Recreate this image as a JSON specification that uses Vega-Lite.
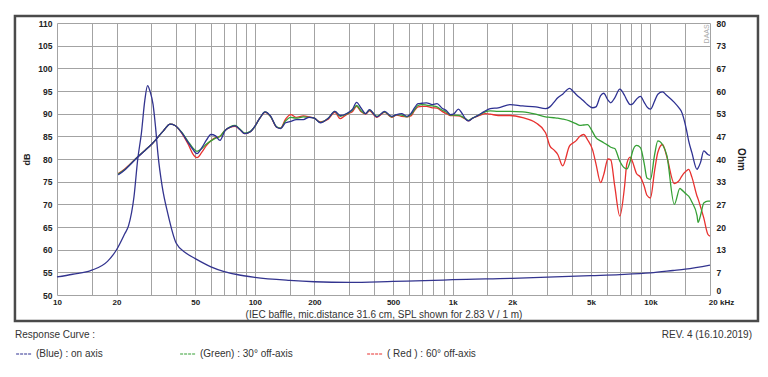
{
  "$schema": "https://vega.github.io/schema/vega-lite/v6.json",
  "width": 653,
  "height": 272,
  "autosize": {"type": "none"},
  "padding": {"left": 57, "top": 23, "right": 58, "bottom": 82},
  "background": "white",
  "config": {
    "font": "Liberation Sans",
    "view": {"stroke": null},
    "axis": {"gridColor": "#a3a3a3", "gridWidth": 1, "gridOpacity": 1, "labelColor": "#222", "titleColor": "#222"},
    "axisLeft": {"values": [50, 55, 60, 65, 70, 75, 80, 85, 90, 95, 100, 105, 110], "labelOverlap": false}
  },
  "title": {"text": "REV. 4 (16.10.2019)", "orient": "bottom", "anchor": "end", "frame": "group", "dx": 42, "offset": -29, "fontSize": 10, "fontWeight": "normal", "color": "#333", "font": "Liberation Sans"},
  "datasets": {
    "spl": [
      {"f": 20.4, "b": 76.5, "g": 76.7, "r": 76.8},
      {"f": 22, "b": 77.6, "g": 77.7, "r": 77.8},
      {"f": 25.3, "b": 80.2, "g": 80.3, "r": 80.3},
      {"f": 28, "b": 82, "g": 82, "r": 82},
      {"f": 30, "b": 83.2, "g": 83.2, "r": 83.2},
      {"f": 34.5, "b": 86.2, "g": 86.2, "r": 86.2},
      {"f": 37.3, "b": 87.7, "g": 87.7, "r": 87.7},
      {"f": 39.5, "b": 87.4, "g": 87.4, "r": 87.4},
      {"f": 42.7, "b": 85.8, "g": 85.9, "r": 85.7},
      {"f": 46.1, "b": 83.6, "g": 83.8, "r": 83.2},
      {"f": 48.5, "b": 82.2, "g": 82.5, "r": 81.2},
      {"f": 51, "b": 81.2, "g": 81.7, "r": 80.3},
      {"f": 54, "b": 82.5, "g": 82.3, "r": 81.5},
      {"f": 57, "b": 84.2, "g": 83.3, "r": 83.0},
      {"f": 60, "b": 85.4, "g": 84.0, "r": 84.0},
      {"f": 63.3, "b": 85.1, "g": 84.6, "r": 84.7},
      {"f": 66.7, "b": 84.1, "g": 85.0, "r": 85.0},
      {"f": 70.6, "b": 86.2, "g": 86.3, "r": 86.3},
      {"f": 75, "b": 87.0, "g": 87.1, "r": 87.0},
      {"f": 79.5, "b": 87.3, "g": 87.4, "r": 87.2},
      {"f": 84, "b": 86.5, "g": 86.6, "r": 86.5},
      {"f": 89, "b": 85.6, "g": 85.7, "r": 85.6},
      {"f": 95, "b": 86.0, "g": 86.1, "r": 86.0},
      {"f": 99, "b": 86.9, "g": 86.9, "r": 86.9},
      {"f": 106, "b": 89.0, "g": 89.0, "r": 89.0},
      {"f": 112.7, "b": 90.4, "g": 90.4, "r": 90.3},
      {"f": 120, "b": 89.5, "g": 89.4, "r": 89.4},
      {"f": 129, "b": 87.0, "g": 87.1, "r": 87.0},
      {"f": 135, "b": 86.7, "g": 86.8, "r": 86.8},
      {"f": 143, "b": 88.0, "g": 88.4, "r": 88.8},
      {"f": 152, "b": 88.3, "g": 89.2, "r": 89.8},
      {"f": 162, "b": 88.7, "g": 89.0, "r": 89.2},
      {"f": 176, "b": 88.7, "g": 89.3, "r": 89.5},
      {"f": 188, "b": 89.2, "g": 89.2, "r": 89.3},
      {"f": 200, "b": 89.0, "g": 89.0, "r": 89.0},
      {"f": 214, "b": 88.0, "g": 88.1, "r": 88.2},
      {"f": 235, "b": 89.0, "g": 89.0, "r": 88.8},
      {"f": 254, "b": 90.5, "g": 90.5, "r": 90.3},
      {"f": 270, "b": 89.6, "g": 89.4, "r": 88.9},
      {"f": 293, "b": 90.1, "g": 90.0, "r": 89.9},
      {"f": 312, "b": 91.0, "g": 90.8, "r": 90.5},
      {"f": 327, "b": 92.5, "g": 91.8, "r": 91.6},
      {"f": 345, "b": 91.2, "g": 90.6, "r": 90.4},
      {"f": 363, "b": 90.0, "g": 90.0, "r": 89.9},
      {"f": 380, "b": 90.9, "g": 90.8, "r": 90.6},
      {"f": 414, "b": 89.3, "g": 89.4, "r": 89.2},
      {"f": 453, "b": 90.5, "g": 90.4, "r": 90.3},
      {"f": 492, "b": 89.4, "g": 89.3, "r": 89.2},
      {"f": 521, "b": 89.8, "g": 89.8, "r": 89.7},
      {"f": 552, "b": 90.0, "g": 89.7, "r": 89.4},
      {"f": 588, "b": 89.4, "g": 89.3, "r": 89.3},
      {"f": 615, "b": 90.0, "g": 89.8, "r": 89.5},
      {"f": 640, "b": 91.2, "g": 90.8, "r": 90.6},
      {"f": 668, "b": 92.2, "g": 91.8, "r": 91.5},
      {"f": 700, "b": 92.3, "g": 92.0, "r": 91.6},
      {"f": 737, "b": 92.4, "g": 91.9, "r": 91.6},
      {"f": 790, "b": 92.0, "g": 91.7, "r": 91.3},
      {"f": 834, "b": 92.2, "g": 91.5, "r": 91.2},
      {"f": 884, "b": 91.2, "g": 90.8, "r": 90.5},
      {"f": 934, "b": 90.6, "g": 90.3, "r": 90.0},
      {"f": 974, "b": 89.8, "g": 89.7, "r": 89.6},
      {"f": 1010, "b": 89.9, "g": 89.7, "r": 89.6},
      {"f": 1070, "b": 91.0, "g": 89.6, "r": 89.5},
      {"f": 1110, "b": 90.2, "g": 89.4, "r": 89.3},
      {"f": 1170, "b": 88.7, "g": 88.8, "r": 88.7},
      {"f": 1200, "b": 88.4, "g": 88.5, "r": 88.4},
      {"f": 1260, "b": 89.0, "g": 89.0, "r": 89.0},
      {"f": 1330, "b": 89.5, "g": 89.5, "r": 89.4},
      {"f": 1400, "b": 90.1, "g": 90.0, "r": 89.8},
      {"f": 1460, "b": 90.6, "g": 90.4, "r": 90.0},
      {"f": 1550, "b": 91.1, "g": 90.6, "r": 89.9},
      {"f": 1700, "b": 91.3, "g": 90.5, "r": 89.6},
      {"f": 1950, "b": 92.0, "g": 90.5, "r": 89.6},
      {"f": 2260, "b": 91.7, "g": 90.4, "r": 89.1},
      {"f": 2630, "b": 91.5, "g": 89.9, "r": 88.0},
      {"f": 2950, "b": 91.1, "g": 89.3, "r": 85.8},
      {"f": 3100, "b": 91.5, "g": 89.2, "r": 82.9},
      {"f": 3250, "b": 92.5, "g": 89.1, "r": 82.0},
      {"f": 3400, "b": 93.5, "g": 89.0, "r": 81.0},
      {"f": 3600, "b": 94.3, "g": 88.8, "r": 78.5},
      {"f": 3900, "b": 95.6, "g": 88.4, "r": 82.9},
      {"f": 4050, "b": 95.0, "g": 88.1, "r": 83.5},
      {"f": 4200, "b": 94.3, "g": 87.8, "r": 84.0},
      {"f": 4400, "b": 93.5, "g": 87.4, "r": 85.0},
      {"f": 4600, "b": 92.8, "g": 87.5, "r": 85.4},
      {"f": 4800, "b": 92.0, "g": 87.6, "r": 84.3},
      {"f": 5100, "b": 91.3, "g": 86.0, "r": 82.0},
      {"f": 5300, "b": 91.5, "g": 84.7, "r": 79.0},
      {"f": 5600, "b": 94.0, "g": 84.0, "r": 74.8},
      {"f": 5800, "b": 94.5, "g": 83.6, "r": 76.5},
      {"f": 6100, "b": 93.0, "g": 83.0, "r": 80.0},
      {"f": 6300, "b": 92.4, "g": 82.6, "r": 79.8},
      {"f": 6600, "b": 93.5, "g": 82.3, "r": 74.0},
      {"f": 7000, "b": 95.4, "g": 79.5, "r": 67.4},
      {"f": 7400, "b": 94.0, "g": 78.0, "r": 74.0},
      {"f": 7600, "b": 93.0, "g": 77.8, "r": 79.0},
      {"f": 7900, "b": 92.0, "g": 79.5, "r": 80.4},
      {"f": 8100, "b": 92.1, "g": 81.5, "r": 79.5},
      {"f": 8500, "b": 93.2, "g": 83.0, "r": 76.8},
      {"f": 8900, "b": 93.8, "g": 82.5, "r": 76.0},
      {"f": 9300, "b": 92.5, "g": 79.0, "r": 74.0},
      {"f": 9600, "b": 91.5, "g": 75.8, "r": 72.0},
      {"f": 10000, "b": 91.0, "g": 75.5, "r": 71.4},
      {"f": 10500, "b": 92.8, "g": 81.0, "r": 77.5},
      {"f": 10900, "b": 94.3, "g": 84.0, "r": 81.5},
      {"f": 11500, "b": 94.8, "g": 83.2, "r": 83.2},
      {"f": 12100, "b": 94.0, "g": 80.8, "r": 80.5},
      {"f": 13200, "b": 92.5, "g": 70.0, "r": 74.6},
      {"f": 14100, "b": 91.0, "g": 73.5, "r": 75.5},
      {"f": 14300, "b": 90.6, "g": 73.3, "r": 76.0},
      {"f": 15200, "b": 86.5, "g": 72.2, "r": 77.4},
      {"f": 15600, "b": 84.0, "g": 71.8, "r": 77.7},
      {"f": 16200, "b": 81.4, "g": 70.5, "r": 76.0},
      {"f": 17200, "b": 77.7, "g": 67.5, "r": 71.8},
      {"f": 17400, "b": 78.0, "g": 66.0, "r": 71.2},
      {"f": 17900, "b": 79.2, "g": 67.5, "r": 69.5},
      {"f": 18600, "b": 81.8, "g": 70.3, "r": 67.0},
      {"f": 19500, "b": 81.0, "g": 70.7, "r": 63.4},
      {"f": 20000, "b": 80.8, "g": 70.7, "r": 63.0}
    ],
    "imp": [
      {"f": 10, "ohm": 5.3},
      {"f": 12, "ohm": 6.1},
      {"f": 15, "ohm": 7.3},
      {"f": 18, "ohm": 9.9},
      {"f": 20, "ohm": 13.3},
      {"f": 22, "ohm": 18.0},
      {"f": 23, "ohm": 20.4},
      {"f": 24.5, "ohm": 28.9},
      {"f": 25.6, "ohm": 40.0},
      {"f": 26.7, "ohm": 47.5},
      {"f": 27.8, "ohm": 57.3},
      {"f": 28.7, "ohm": 61.6},
      {"f": 29.5, "ohm": 60.0},
      {"f": 30.6, "ohm": 56.0},
      {"f": 31.5, "ohm": 49.3},
      {"f": 32.4, "ohm": 41.3},
      {"f": 34, "ohm": 32.0},
      {"f": 36.3, "ohm": 24.0},
      {"f": 40, "ohm": 15.3},
      {"f": 45, "ohm": 12.3},
      {"f": 50, "ohm": 10.7},
      {"f": 60, "ohm": 8.3},
      {"f": 70, "ohm": 6.9},
      {"f": 80, "ohm": 6.1},
      {"f": 100, "ohm": 5.2},
      {"f": 150, "ohm": 4.3},
      {"f": 200, "ohm": 3.9},
      {"f": 300, "ohm": 3.7},
      {"f": 500, "ohm": 4.0},
      {"f": 800, "ohm": 4.3},
      {"f": 1000, "ohm": 4.5},
      {"f": 2000, "ohm": 4.9},
      {"f": 5000, "ohm": 5.7},
      {"f": 7000, "ohm": 6.0},
      {"f": 10000, "ohm": 6.5},
      {"f": 13000, "ohm": 7.2},
      {"f": 15000, "ohm": 7.6},
      {"f": 20000, "ohm": 8.8}
    ]
  },
  "resolve": {"scale": {"y": "independent"}},
  "layer": [
    {
      "layer": [
        {
          "data": {"name": "spl"},
          "transform": [{"fold": ["r", "g", "b"], "as": ["curve", "db"]}],
          "mark": {"type": "line", "strokeWidth": 1.3, "interpolate": "monotone"},
          "encoding": {
            "x": {
              "field": "f", "type": "quantitative",
              "scale": {"type": "log", "domain": [10, 20000], "nice": false},
              "axis": {
                "values": [10, 15, 20, 30, 40, 50, 60, 70, 80, 90, 100, 150, 200, 300, 400, 500, 600, 700, 800, 900, 1000, 1500, 2000, 3000, 4000, 5000, 6000, 7000, 8000, 9000, 10000, 15000, 20000],
                "labelExpr": "indexof([10,20,50,100,200,500],datum.value)>=0 ? ''+datum.value : indexof([1000,2000,5000,10000],datum.value)>=0 ? (datum.value/1000)+'k' : datum.value==20000 ? '20 kHz' : ''",
                "labelOverlap": false,
                "labelFlush": false,
                "labelFontWeight": "bold",
                "labelFontSize": 8,
                "labelPadding": 3,
                "labelOffset": {"condition": {"test": "datum.value == 20000", "value": 11}, "value": 0},
                "ticks": false,
                "domain": false,
                "grid": true,
                "title": "(IEC baffle, mic.distance 31.6 cm, SPL shown for 2.83 V / 1 m)",
                "titleFontWeight": "normal",
                "titleFontSize": 10,
                "titlePadding": 3,
                "titleColor": "#333"
              }
            },
            "y": {
              "field": "db", "type": "quantitative",
              "scale": {"domain": [50, 110], "nice": false, "zero": false},
              "axis": {
                "values": [50, 55, 60, 65, 70, 75, 80, 85, 90, 95, 100, 105, 110],
                "labelOverlap": false,
                "labelFontWeight": "bold",
                "labelFontSize": 8.5,
                "labelPadding": 5,
                "ticks": false,
                "domain": false,
                "grid": true,
                "title": "dB",
                "titleFontWeight": "bold",
                "titleFontSize": 9,
                "titlePadding": 6
              }
            },
            "color": {
              "field": "curve", "type": "nominal",
              "scale": {"domain": ["b", "g", "r"], "range": ["#2e3192", "#35a035", "#e8312f"]},
              "legend": {
                "orient": "none",
                "legendX": -42,
                "legendY": 307,
                "direction": "horizontal",
                "columns": 3,
                "columnPadding": 71,
                "padding": 0,
                "title": "Response Curve :",
                "titleFontWeight": "normal",
                "titleFontSize": 10,
                "titleColor": "#333",
                "titlePadding": 5,
                "labelFontSize": 10,
                "labelColor": "#333",
                "labelOffset": 3,
                "symbolType": "stroke",
                "symbolSize": 250,
                "symbolStrokeWidth": 1.2,
                "symbolDash": [3, 1],
                "labelExpr": "datum.label == 'b' ? '(Blue)  : on axis' : datum.label == 'g' ? '(Green) : 30° off-axis' : '( Red ) : 60° off-axis'"
              }
            }
          }
        },
        {
          "data": {"values": [{}]},
          "mark": {"type": "rect", "fill": null, "stroke": "#4a4a4a", "strokeWidth": 2.5, "clip": false},
          "encoding": {
            "x": {"datum": 6.13, "type": "quantitative"},
            "x2": {"datum": 34960},
            "y": {"datum": 111.54, "type": "quantitative", "axis": {"values": [50, 55, 60, 65, 70, 75, 80, 85, 90, 95, 100, 105, 110]}},
            "y2": {"datum": 44.26}
          }
        },
        {
          "data": {"values": [{"t": "DAAS"}]},
          "mark": {"type": "text", "angle": 270, "fontSize": 7, "color": "#aaaaaa", "align": "center", "baseline": "middle"},
          "encoding": {
            "x": {"datum": 19300, "type": "quantitative"},
            "y": {"datum": 107.6, "type": "quantitative", "axis": {"values": [50, 55, 60, 65, 70, 75, 80, 85, 90, 95, 100, 105, 110]}},
            "text": {"field": "t"}
          }
        }
      ]
    },
    {
      "data": {"name": "imp"},
      "mark": {"type": "line", "strokeWidth": 1.3, "color": "#33348f", "interpolate": "monotone"},
      "encoding": {
        "x": {"field": "f", "type": "quantitative"},
        "y": {
          "field": "ohm", "type": "quantitative",
          "scale": {"domain": [0, 80], "nice": false},
          "axis": {
            "orient": "right",
            "values": [0, 6.6667, 13.3333, 20, 26.6667, 33.3333, 40, 46.6667, 53.3333, 60, 66.6667, 73.3333, 80],
            "format": ".0f",
            "labelOverlap": false,
            "labelFontWeight": "bold",
            "labelFontSize": 8.5,
            "labelPadding": 6,
            "labelBaseline": {"condition": {"test": "datum.value == 0", "value": "bottom"}, "value": "middle"},
            "ticks": false,
            "domain": false,
            "grid": false,
            "title": "Ohm",
            "titleFontWeight": "bold",
            "titleFontSize": 10,
            "titlePadding": 10
          }
        }
      }
    }
  ]
}
